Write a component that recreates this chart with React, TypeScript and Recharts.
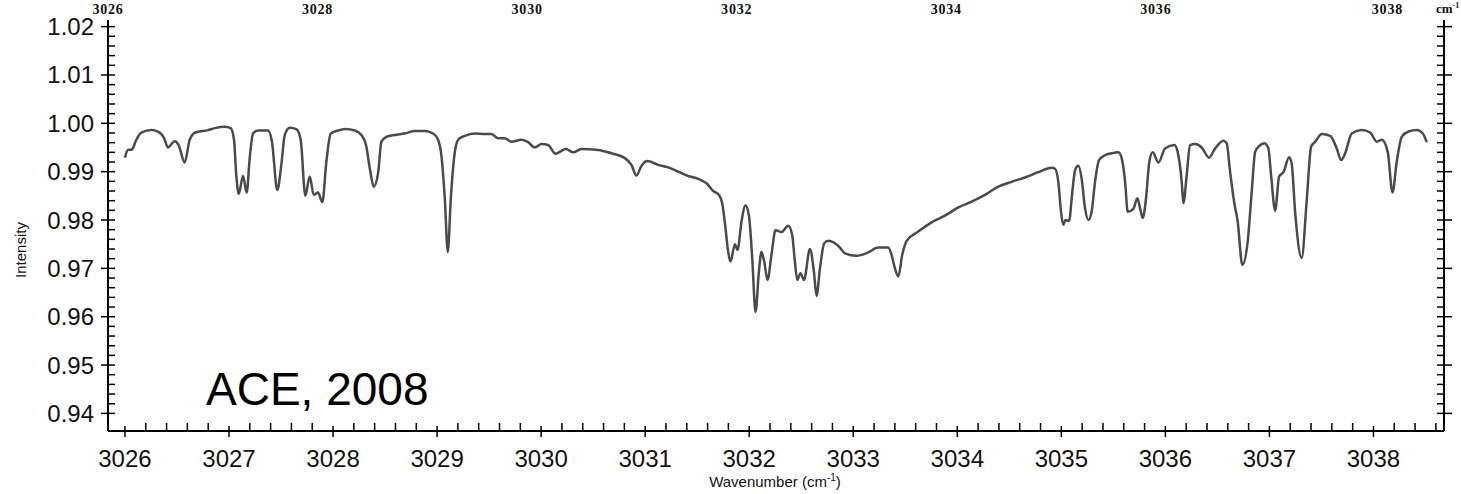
import { LineChart, Line, XAxis, YAxis } from "recharts";

document.body.style.margin = "0";

// wavenumber (cm-1) and intensity
const wavenumber = [
  3026.0, 3026.029, 3026.067, 3026.109, 3026.157, 3026.253, 3026.317, 3026.375, 3026.413, 3026.478,
  3026.516, 3026.574, 3026.622, 3026.676, 3026.798, 3026.863, 3026.959, 3027.016, 3027.048, 3027.07,
  3027.093, 3027.135, 3027.17, 3027.199, 3027.231, 3027.279, 3027.375, 3027.413, 3027.464, 3027.503,
  3027.536, 3027.584, 3027.647, 3027.689, 3027.734, 3027.776, 3027.814, 3027.856, 3027.897, 3027.936,
  3027.978, 3028.048, 3028.118, 3028.209, 3028.272, 3028.32, 3028.353, 3028.391, 3028.433, 3028.465,
  3028.513, 3028.593, 3028.689, 3028.786, 3028.882, 3028.962, 3029.01, 3029.041, 3029.074, 3029.103,
  3029.132, 3029.163, 3029.202, 3029.266, 3029.363, 3029.459, 3029.522, 3029.587, 3029.651, 3029.714,
  3029.81, 3029.875, 3029.939, 3030.003, 3030.067, 3030.138, 3030.18, 3030.238, 3030.308, 3030.388,
  3030.548, 3030.676, 3030.805, 3030.868, 3030.916, 3030.964, 3031.022, 3031.125, 3031.221, 3031.317,
  3031.413, 3031.51, 3031.59, 3031.654, 3031.709, 3031.74, 3031.772, 3031.798, 3031.82, 3031.863,
  3031.888, 3031.926, 3031.964, 3031.997, 3032.029, 3032.061, 3032.093, 3032.118, 3032.144, 3032.176,
  3032.214, 3032.253, 3032.31, 3032.375, 3032.413, 3032.439, 3032.462, 3032.493, 3032.526, 3032.584,
  3032.622, 3032.647, 3032.68, 3032.721, 3032.76, 3032.872, 3032.92, 3033.032, 3033.144, 3033.24,
  3033.337, 3033.368, 3033.401, 3033.433, 3033.471, 3033.513, 3033.625, 3033.753, 3033.882, 3034.01,
  3034.138, 3034.266, 3034.394, 3034.522, 3034.651, 3034.779, 3034.907, 3034.939, 3034.971, 3034.997,
  3035.019, 3035.041, 3035.074, 3035.106, 3035.132, 3035.163, 3035.195, 3035.228, 3035.26, 3035.291,
  3035.324, 3035.362, 3035.42, 3035.484, 3035.548, 3035.58, 3035.613, 3035.638, 3035.692, 3035.731,
  3035.757, 3035.782, 3035.814, 3035.846, 3035.878, 3035.933, 3035.997, 3036.087, 3036.118, 3036.157,
  3036.173, 3036.205, 3036.237, 3036.286, 3036.349, 3036.42, 3036.478, 3036.558, 3036.589, 3036.622,
  3036.661, 3036.695, 3036.74, 3036.791, 3036.83, 3036.863, 3036.901, 3036.952, 3036.99, 3037.016,
  3037.055, 3037.093, 3037.135, 3037.189, 3037.214, 3037.247, 3037.31, 3037.36, 3037.401, 3037.44,
  3037.503, 3037.584, 3037.647, 3037.689, 3037.728, 3037.791, 3037.888, 3037.968, 3038.032, 3038.08,
  3038.137, 3038.183, 3038.224, 3038.272, 3038.337, 3038.416, 3038.474, 3038.512,
];

const intensity = [
  0.9929, 0.9945, 0.9946, 0.9966, 0.9981, 0.9986, 0.9983, 0.997, 0.995, 0.9963,
  0.9955, 0.9919, 0.9966, 0.9981, 0.9986, 0.999, 0.9993, 0.999, 0.9966, 0.9893,
  0.9854, 0.9891, 0.9857, 0.9928, 0.9979, 0.9985, 0.9985, 0.9962, 0.9862, 0.9914,
  0.9976, 0.9991, 0.9988, 0.9966, 0.985, 0.989, 0.9852, 0.9857, 0.9837, 0.9921,
  0.9979, 0.9985, 0.9988, 0.9985, 0.9976, 0.9952, 0.9907, 0.9869, 0.9897, 0.9962,
  0.9972, 0.9976, 0.9979, 0.9984, 0.9984, 0.9979, 0.9966, 0.9934, 0.9845, 0.9734,
  0.9845, 0.9928, 0.9966, 0.9974, 0.9979, 0.9978, 0.9978, 0.9969, 0.9969, 0.9962,
  0.9966, 0.9961, 0.995, 0.9957, 0.9955, 0.9937, 0.9941, 0.9947, 0.994, 0.9947,
  0.9945, 0.9938, 0.9928, 0.9914, 0.9892, 0.9912, 0.9922, 0.9914, 0.9909, 0.99,
  0.9891, 0.9885, 0.9876, 0.986, 0.9852, 0.9835, 0.9783, 0.9734, 0.9714, 0.975,
  0.9738, 0.9797, 0.983, 0.981, 0.9721, 0.961, 0.9693, 0.9734, 0.9714, 0.9676,
  0.9728, 0.9779, 0.9775, 0.9788, 0.9769, 0.9714, 0.9676, 0.969, 0.9676, 0.974,
  0.9693, 0.9643, 0.97, 0.9752, 0.9757, 0.9743, 0.9731, 0.9726, 0.9733, 0.9743,
  0.9743, 0.9728, 0.97, 0.9683, 0.9728, 0.9757, 0.9776, 0.9795, 0.9809, 0.9826,
  0.9838, 0.9852, 0.9869, 0.9879, 0.9888, 0.9899, 0.9908, 0.9906, 0.9879, 0.9817,
  0.979, 0.98, 0.9798, 0.9859, 0.9903, 0.9912, 0.9886, 0.9824, 0.98, 0.9817,
  0.9879, 0.9924, 0.9934, 0.9938, 0.994, 0.9928, 0.9879, 0.9817, 0.9823, 0.9845,
  0.9824, 0.9804, 0.9845, 0.9921, 0.994, 0.9919, 0.9948, 0.9955, 0.9941, 0.9879,
  0.9835, 0.9893, 0.9955, 0.9957, 0.995, 0.9929, 0.9948, 0.9964, 0.9959, 0.99,
  0.9837, 0.9797, 0.9707, 0.9755, 0.9859, 0.9941, 0.9953, 0.9959, 0.9948, 0.9893,
  0.9819, 0.989, 0.9899, 0.993, 0.9917, 0.9817, 0.9722, 0.9845, 0.9952, 0.9962,
  0.9978, 0.9974, 0.9948, 0.9924, 0.9938, 0.9979, 0.9986, 0.9981, 0.9962, 0.9966,
  0.9941, 0.9857, 0.9921, 0.9972, 0.9983, 0.9986, 0.9979, 0.9961,
];

const xMajorTicks = [3026, 3027, 3028, 3029, 3030, 3031, 3032, 3033, 3034, 3035, 3036, 3037, 3038];
const yMajorTicks = [0.94, 0.95, 0.96, 0.97, 0.98, 0.99, 1.0, 1.01, 1.02];
const topTicks = [3026, 3028, 3030, 3032, 3034, 3036, 3038];

const steps = (from: number, to: number, step: number) => {
  const out: number[] = [];
  for (let v = from; v <= to + 1e-9; v += step) out.push(Math.round(v * 1000) / 1000);
  return out;
};
const xTicks = steps(3026, 3038.6, 0.2);
const yTicks = steps(0.94, 1.02, 0.002);

const data = wavenumber.map((wn, i) => ({ wn, v: intensity[i] }));

const isMajor = (v: number, majors: number[]) => majors.some((m) => Math.abs(m - v) < 1e-6);
const SANS = "'Liberation Sans', Arial, sans-serif";
const SERIF = "'Liberation Serif', 'DejaVu Serif', serif";

const BottomTick = (props: any) => {
  const { x, y, payload } = props;
  if (isMajor(payload.value, xMajorTicks)) {
    return (
      <g>
        <line x1={x} x2={x} y1={y - 5} y2={y + 6} stroke="#000" strokeWidth={1.5} />
        <text x={x} y={y + 36} textAnchor="middle" fontSize={24} fontFamily={SANS} fill="#111">
          {payload.value}
        </text>
      </g>
    );
  }
  return <line x1={x} x2={x} y1={y} y2={y - 8} stroke="#000" strokeWidth={1.5} />;
};

const LeftTick = (props: any) => {
  const { x, y, payload } = props;
  if (isMajor(payload.value, yMajorTicks)) {
    return (
      <g>
        <line x1={x - 7} x2={x + 7} y1={y} y2={y} stroke="#000" strokeWidth={1.5} />
        <text x={x - 14} y={y + 8.5} textAnchor="end" fontSize={24} fontFamily={SANS} fill="#111">
          {payload.value.toFixed(2)}
        </text>
      </g>
    );
  }
  return <line x1={x} x2={x + 7} y1={y} y2={y} stroke="#000" strokeWidth={1.5} />;
};

const RightTick = (props: any) => {
  const { x, y, payload } = props;
  const major = isMajor(payload.value, yMajorTicks);
  return <line x1={x - 7} x2={major ? x + 8 : x} y1={y} y2={y} stroke="#000" strokeWidth={1.5} />;
};

const TopTick = (props: any) => {
  const { x, y, payload } = props;
  const nudge = payload.value === topTicks[topTicks.length - 1] ? 22 : 0;
  return (
    <text
      x={x + nudge}
      y={y - 6}
      textAnchor="middle"
      fontSize={14}
      fontWeight="bold"
      letterSpacing={0.8}
      fontFamily={SERIF}
      fill="#111"
    >
      {payload.value}
    </text>
  );
};

export default function App() {
  return (
    <div style={{ position: "relative", width: 1461, height: 494, background: "#fff" }}>
      <LineChart width={1461} height={494} data={data} margin={{ top: 0, right: 0, bottom: 0, left: 0 }}>
        <XAxis
          xAxisId="top"
          dataKey="wn"
          orientation="top"
          type="number"
          domain={[3026, 3038.75]}
          allowDataOverflow
          ticks={topTicks}
          interval={0}
          height={20}
          axisLine={false}
          tickLine={false}
          tickSize={0}
          tickMargin={0}
          tick={<TopTick />}
        />
        <XAxis
          dataKey="wn"
          type="number"
          domain={[3025.837, 3038.678]}
          allowDataOverflow
          ticks={xTicks}
          interval={0}
          height={63}
          axisLine={{ stroke: "#000", strokeWidth: 2 }}
          tickLine={false}
          tickSize={0}
          tickMargin={0}
          tick={<BottomTick />}
        />
        <YAxis
          type="number"
          domain={[0.93636, 1.02137]}
          allowDataOverflow
          ticks={yTicks}
          interval={0}
          width={108}
          axisLine={{ stroke: "#000", strokeWidth: 2 }}
          tickLine={false}
          tickSize={0}
          tickMargin={0}
          tick={<LeftTick />}
        />
        <YAxis
          yAxisId="right"
          orientation="right"
          type="number"
          domain={[0.93636, 1.02137]}
          allowDataOverflow
          ticks={yTicks}
          interval={0}
          width={17}
          axisLine={{ stroke: "#000", strokeWidth: 2 }}
          tickLine={false}
          tickSize={0}
          tickMargin={0}
          tick={<RightTick />}
        />
        {/* invisible series so the top wavenumber axis gets its scale */}
        <Line
          xAxisId="top"
          yAxisId="right"
          dataKey="v"
          stroke="none"
          dot={false}
          activeDot={false}
          legendType="none"
          isAnimationActive={false}
        />
        <Line
          type="monotone"
          dataKey="v"
          stroke="#4a4a4a"
          strokeWidth={2.5}
          dot={false}
          isAnimationActive={false}
        />
      </LineChart>
      <div
        style={{
          position: "absolute",
          left: 20,
          top: 250,
          transform: "translate(-50%, -50%) rotate(-90deg)",
          fontFamily: SANS,
          fontSize: 15,
          color: "#111",
          whiteSpace: "nowrap",
        }}
      >
        Intensity
      </div>
      <div
        style={{
          position: "absolute",
          left: 775,
          top: 481,
          transform: "translate(-50%, -50%)",
          fontFamily: SANS,
          fontSize: 15,
          color: "#111",
          whiteSpace: "nowrap",
        }}
      >
        Wavenumber (cm<sup style={{ fontSize: 10 }}>-1</sup>)
      </div>
      <div
        style={{
          position: "absolute",
          left: 206,
          top: 366,
          fontFamily: SANS,
          fontSize: 46,
          color: "#000",
          whiteSpace: "nowrap",
          lineHeight: 1,
        }}
      >
        ACE, 2008
      </div>
      <div
        style={{
          position: "absolute",
          left: 1436,
          top: 2,
          fontFamily: SERIF,
          fontSize: 13,
          fontWeight: "bold",
          color: "#111",
          whiteSpace: "nowrap",
          lineHeight: 1,
        }}
      >
        cm<sup style={{ fontSize: 8 }}>-1</sup>
      </div>
    </div>
  );
}
